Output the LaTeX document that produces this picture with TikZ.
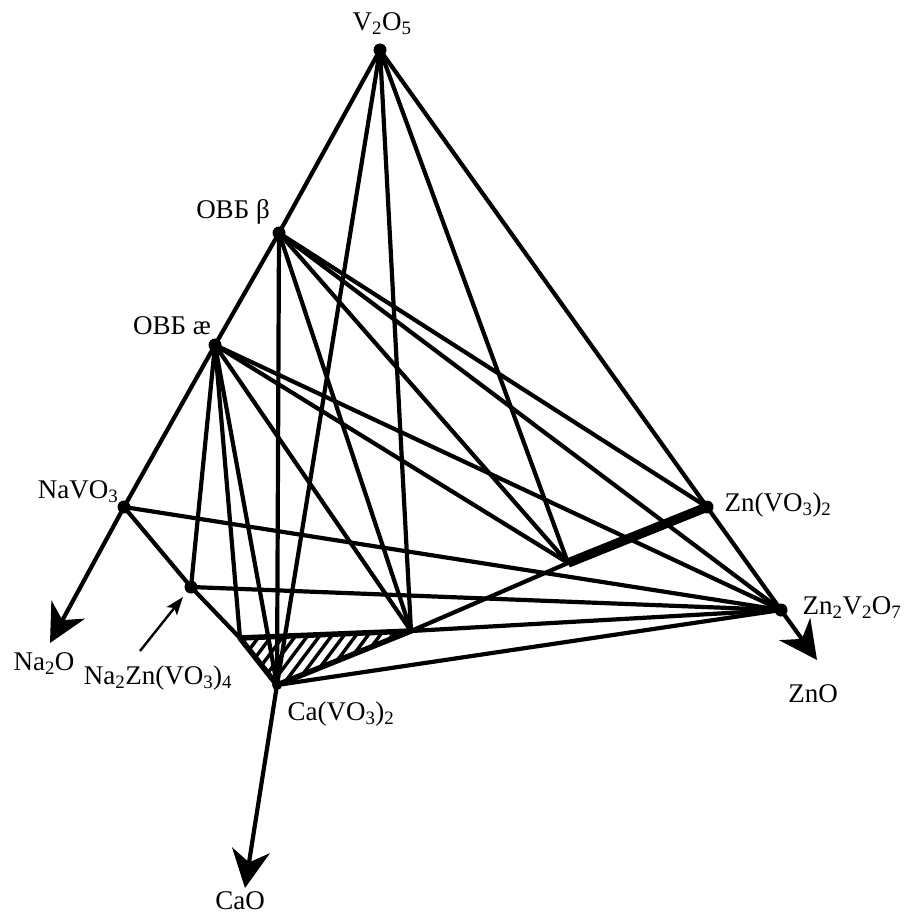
\documentclass[tikz,border=0pt]{standalone}
\usepackage{fontspec}
\setmainfont{Liberation Serif}
\usetikzlibrary{arrows.meta}
\begin{document}
\begin{tikzpicture}[x=1pt,y=-1pt,
  edge/.style={line width=4.2pt, line cap=round, line join=round},
  rim/.style={line width=5.5pt, line cap=round, line join=round},
  bold/.style={line width=9.5pt},
  dot/.style={circle, fill, inner sep=0pt, minimum size=13pt},
  lab/.style={inner sep=0pt, font=\fontsize{27}{32}\selectfont},
  axis/.style={line width=4.2pt, -{Stealth[length=38pt,width=38pt,inset=12pt]}},
  pointer/.style={line width=2.4pt, -{Stealth[length=18pt,width=13pt,inset=4pt]}}]
\useasboundingbox (0,0) rectangle (907,920);

% compositions
\coordinate (V)  at (380,50);   % V2O5
\coordinate (B)  at (279,233);  % OVB beta
\coordinate (A)  at (215,345);  % OVB ae
\coordinate (N)  at (124,507);  % NaVO3
\coordinate (NZ) at (191,587);  % Na2Zn(VO3)4
\coordinate (R)  at (240,638);
\coordinate (C)  at (277,685);  % Ca(VO3)2
\coordinate (Q)  at (411,631);
\coordinate (P)  at (568,563);
\coordinate (Z1) at (707,507);  % Zn(VO3)2
\coordinate (Z2) at (781,610);  % Zn2V2O7

% oxide axes
\coordinate (eNa) at (50,643);
\coordinate (eCa) at (245,888);
\coordinate (eZn) at (817,660);
\coordinate (ptA) at (140,651);
\coordinate (ptB) at (183,597);

% hatched triangle
\begin{scope}
  \clip (R) -- (C) -- (Q) -- cycle;
  \foreach \x in {180,192,...,420}
    \draw[line width=3.4pt] (\x,710) -- ++(60,-80);
\end{scope}

% outer edges
\draw[edge] (V) -- (B) -- (A) -- (N) -- (NZ) -- (R) -- (C);
\draw[edge] (V) -- (Z1) -- (Z2);

% joins from V2O5
\draw[edge] (V) -- (C);
\draw[edge] (V) -- (Q);
\draw[edge] (V) -- (P);

% joins from OVB beta
\draw[edge] (B) -- (C);
\draw[edge] (B) -- (Q);
\draw[edge] (B) -- (P);
\draw[edge] (B) -- (Z1);
\draw[edge] (B) -- (Z2);

% joins from OVB ae
\draw[edge] (A) -- (NZ);
\draw[edge] (A) -- (R);
\draw[edge] (A) -- (C);
\draw[edge] (A) -- (Q);
\draw[edge] (A) -- (P);
\draw[edge] (A) -- (Z2);

% joins to Zn2V2O7
\draw[edge] (N) -- (Z2);
\draw[edge] (NZ) -- (Z2);
\draw[edge] (Q) -- (Z2);
\draw[edge] (C) -- (Z2);

% triangle rims and the Ca(VO3)2 - Zn(VO3)2 join
\draw[rim] (R) -- (C) -- (Q) -- (R);
\draw[edge] (Q) -- (P);
\draw[bold] (P) -- (Z1);

% axes
\draw[axis] (N) -- (eNa);
\draw[axis] (C) -- (eCa);
\draw[axis] (Z2) -- (eZn);
\draw[pointer] (ptA) -- (ptB);

% points
\node[dot] (dV)  at (V)  {};
\node[dot] (dB)  at (B)  {};
\node[dot] (dA)  at (A)  {};
\node[dot] (dN)  at (N)  {};
\node[dot] (dNZ) at (NZ) {};
\node[dot, minimum size=10pt] (dC) at (C) {};
\node[dot] (dZ1) at (Z1) {};
\node[dot] (dZ2) at (Z2) {};

% labels
\node[lab] (lV)  at (382,24)  {V\textsubscript{2}O\textsubscript{5}};
\node[lab] (lB)  at (233,212) {ОВБ β};
\node[lab] (lA)  at (172,326) {ОВБ æ};
\node[lab] (lN)  at (78,492)  {NaVO\textsubscript{3}};
\node[lab] (lNa) at (44,664)  {Na\textsubscript{2}O};
\node[lab] (lNZ) at (158,678) {Na\textsubscript{2}Zn(VO\textsubscript{3})\textsubscript{4}};
\node[lab] (lC)  at (341,714) {Ca(VO\textsubscript{3})\textsubscript{2}};
\node[lab] (lCa) at (240,901) {CaO};
\node[lab] (lZ1) at (778,505) {Zn(VO\textsubscript{3})\textsubscript{2}};
\node[lab] (lZ2) at (852,608) {Zn\textsubscript{2}V\textsubscript{2}O\textsubscript{7}};
\node[lab] (lZn) at (813,694) {ZnO};
\end{tikzpicture}
\end{document}
